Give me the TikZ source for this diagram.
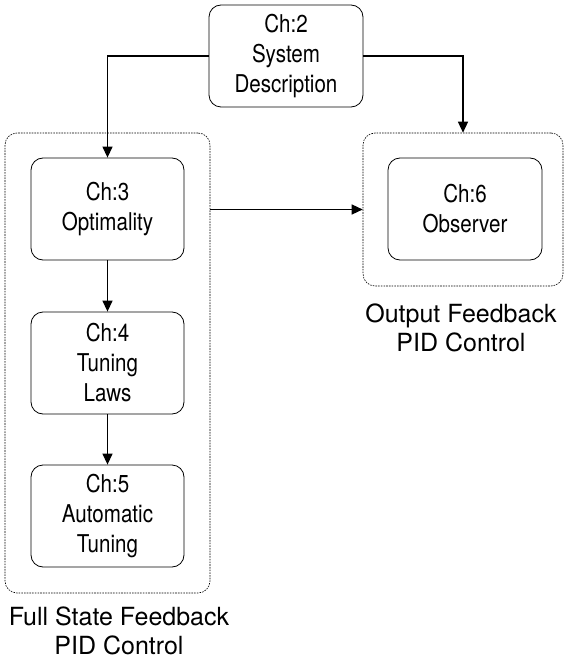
\documentclass[tikz,border=0pt]{standalone}
\usepackage{fontspec}
\setmainfont{TeX Gyre Heros}
\newfontfamily\chapfont[FakeStretch=0.84]{TeX Gyre Heros}
\usetikzlibrary{arrows.meta}

\tikzset{
  chapbox/.style={draw, rounded corners=12pt, line width=0.8pt, minimum width=153pt,
    minimum height=102pt, inner sep=0pt, align=center,
    font=\chapfont\fontsize{24.5}{30}\selectfont},
  groupbox/.style={draw, rounded corners=12pt, line width=0.6pt,
    dash pattern=on 1.6pt off 1.1pt, inner sep=0pt},
  grouplabel/.style={align=center, font=\fontsize{25}{29}\selectfont},
  arr/.style={line width=1.3pt, -{Triangle[length=11pt,width=10pt]}}
}

\begin{document}
\begin{tikzpicture}[x=1pt, y=-1pt]
\useasboundingbox (0,0) rectangle (565,660);

% groups
\node[groupbox, minimum width=205pt, minimum height=460pt] (full) at (107.5,363) {};
\node[groupbox, minimum width=200pt, minimum height=153pt] (outfb) at (463,209.5) {};

% chapters
\node[chapbox, minimum width=154pt] (ch2) at (286,56) {Ch:2\\System\\Description};
\node[chapbox] (ch3) at (107.5,209) {Ch:3\\Optimality};
\node[chapbox] (ch4) at (107.5,363) {Ch:4\\Tuning\\Laws};
\node[chapbox] (ch5) at (107.5,516) {Ch:5\\Automatic\\Tuning};
\node[chapbox, minimum width=154pt] (ch6) at (465,209) {Ch:6\\Observer};

% labels
\node[grouplabel] (fulllab) at (119,631) {Full State Feedback\\PID Control};
\node[grouplabel] (outlab) at (461,328) {Output Feedback\\PID Control};

% links
\draw[arr] (ch2.west) -| (ch3.north);
\draw[arr] (ch2.east) -| (outfb.north);
\draw[arr] (full.east |- outfb.west) -- (outfb.west);
\draw[arr] (ch3) -- (ch4);
\draw[arr] (ch4) -- (ch5);

\end{tikzpicture}
\end{document}
